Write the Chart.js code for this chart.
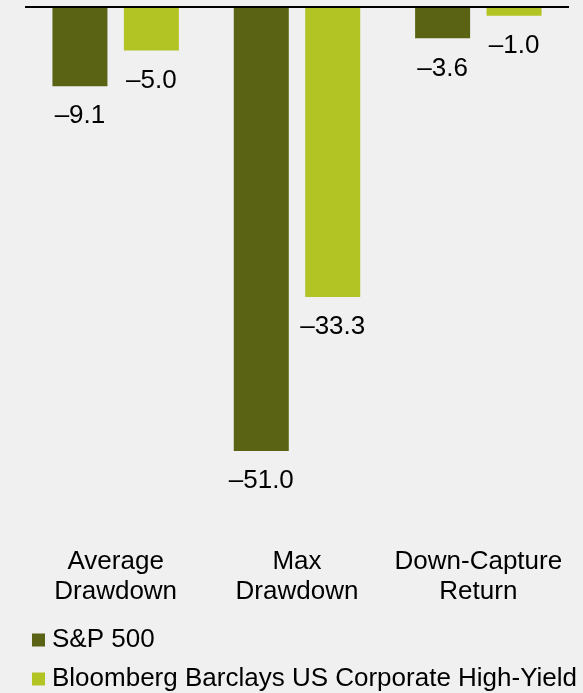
<!DOCTYPE html>
<html>
<head>
<meta charset="utf-8">
<script src="https://cdn.jsdelivr.net/npm/chart.js@4.4.0/dist/chart.umd.min.js"></script>
<style>
  html, body { margin: 0; padding: 0; background: #f0f0f0; overflow: hidden; }
  #wrap { width: 583px; height: 702px; position: relative; }
</style>
</head>
<body>
<div id="wrap"><canvas id="ddChart"></canvas></div>
<script>
// chart data
const categories = [["Average", "Drawdown"], ["Max", "Drawdown"], ["Down-Capture", "Return"]];
const seriesNames = ["S&P 500", "Bloomberg Barclays US Corporate High-Yield"];
const spValues = [-9.1, -51.0, -3.6];
const hyValues = [-5.0, -33.3, -1.0];
const yMin = -61;
const yMax = 0;

const FONT = "'Liberation Sans', Arial, sans-serif";
const colors = ["#5a6314", "#b2c424"];

// value labels under each bar, en dash for the minus sign
const valueLabels = {
    id: "valueLabels",
    afterDatasetsDraw(chart) {
        const ctx = chart.ctx;
        ctx.save();
        ctx.font = "26px " + FONT;
        ctx.fillStyle = "#000";
        ctx.textAlign = "center";
        ctx.textBaseline = "middle";
        chart.data.datasets.forEach((ds, i) => {
            const meta = chart.getDatasetMeta(i);
            meta.data.forEach((bar, j) => {
                const txt = ds.data[j].toFixed(1).replace("-", "\u2013");
                ctx.fillText(txt, bar.x, bar.y + 30);
            });
        });
        ctx.restore();
    }
};

const ctx = document.getElementById("ddChart").getContext("2d");
const ddChart = new Chart(ctx, {
    type: "bar",
    data: {
        labels: categories,
        datasets: [
            {
                label: seriesNames[0],
                data: spValues,
                backgroundColor: colors[0],
                categoryPercentage: 0.788,
                barPercentage: 0.77,
            },
            {
                label: seriesNames[1],
                data: hyValues,
                backgroundColor: colors[1],
                categoryPercentage: 0.788,
                barPercentage: 0.77,
            },
        ],
    },
    options: {
        responsive: true,
        maintainAspectRatio: false,
        animation: false,
        layout: { padding: { top: 7, left: 25, right: 0, bottom: 0 } },
        plugins: {
            tooltip: { enabled: false },
            legend: {
                position: "bottom",
                align: "start",
                labels: {
                    color: "#000",
                    font: { family: FONT, size: 26 },
                    boxWidth: 1,
                    boxHeight: 1,
                    padding: 13,
                    // tiny box with a thick same-colour stroke -> 13px square close to the text
                    generateLabels(chart) {
                        const items = Chart.defaults.plugins.legend.labels.generateLabels(chart);
                        return items.map((it) => Object.assign(it, {
                            lineWidth: 12,
                            strokeStyle: it.fillStyle,
                        }));
                    },
                },
            },
        },
        scales: {
            x: {
                grid: { display: false, drawTicks: false },
                border: { display: false },
                ticks: {
                    color: "#000",
                    font: { family: FONT, size: 26, lineHeight: 1.17 },
                    maxRotation: 0,
                    autoSkip: false,
                    padding: 8,
                },
                afterFit(scale) { scale.height -= 1; },
            },
            y: {
                position: "right",
                min: yMin,
                max: yMax,
                border: { display: false },
                ticks: { display: false },
                grid: {
                    drawTicks: false,
                    lineWidth: 2,
                    color: (c) => (c.tick && c.tick.value === 0 ? "#000" : "rgba(0,0,0,0)"),
                },
                afterFit(scale) { scale.width = 14; },
            },
        },
    },
    plugins: [valueLabels],
});
</script>
</body>
</html>
